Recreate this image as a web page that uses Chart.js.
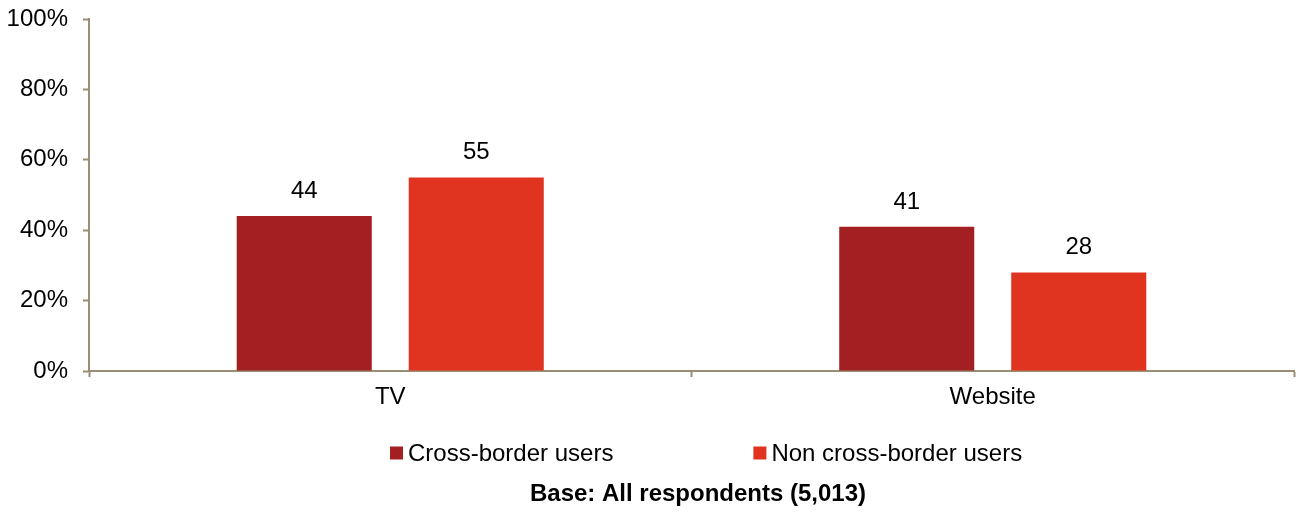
<!DOCTYPE html>
<html>
<head>
<meta charset="utf-8">
<script src="https://cdn.jsdelivr.net/npm/chart.js@4"></script>
<style>
  html, body { margin: 0; padding: 0; background: #fff; }
  #wrap { width: 1296px; height: 515px; }
</style>
</head>
<body>
<div id="wrap"><canvas id="chart"></canvas></div>
<script>
const categories = ['TV', 'Website'];
const crossBorder = [44, 41];
const nonCrossBorder = [55, 28];
const seriesNames = ['Cross-border users', 'Non cross-border users'];
const yTicks = [0, 20, 40, 60, 80, 100];
const baseNote = 'Base: All respondents (5,013)';

const axisColor = '#9a8f74';
const fontFamily = '"Liberation Sans", Arial, sans-serif';

// value labels above each bar
const valueLabels = {
    id: 'valueLabels',
    afterDatasetsDraw(chart) {
        const ctx = chart.ctx;
        ctx.save();
        ctx.font = '24px ' + fontFamily;
        ctx.fillStyle = '#000';
        ctx.textAlign = 'center';
        ctx.textBaseline = 'alphabetic';
        chart.data.datasets.forEach((ds, i) => {
            chart.getDatasetMeta(i).data.forEach((bar, j) => {
                ctx.fillText(String(ds.data[j]), bar.x, bar.y - 18);
            });
        });
        ctx.restore();
    }
};

// legend + base note under the axis
const bottomNotes = {
    id: 'bottomNotes',
    afterDraw(chart) {
        const ctx = chart.ctx;
        const xb = chart.scales.x.bottom;
        ctx.save();
        ctx.font = '24px ' + fontFamily;
        ctx.textBaseline = 'middle';
        ctx.textAlign = 'left';
        const box = 13, gapText = 5, gapItem = 140;
        const widths = seriesNames.map(n => box + gapText + ctx.measureText(n).width);
        let x = 390;
        const y = xb + 41;
        chart.data.datasets.forEach((ds, i) => {
            ctx.fillStyle = ds.backgroundColor;
            ctx.fillRect(x, y - box / 2, box, box);
            ctx.fillStyle = '#000';
            ctx.fillText(seriesNames[i], x + box + gapText, y + 1);
            x += widths[i] + gapItem;
        });
        ctx.font = 'bold 24px ' + fontFamily;
        ctx.textAlign = 'center';
        ctx.fillText(baseNote, 698, y + 41);
        ctx.restore();
    }
};

new Chart(document.getElementById('chart'), {
    type: 'bar',
    data: {
        labels: categories,
        datasets: [
            {
                label: seriesNames[0],
                data: crossBorder,
                backgroundColor: '#a31f22',
                categoryPercentage: 0.571,
                barPercentage: 0.785
            },
            {
                label: seriesNames[1],
                data: nonCrossBorder,
                backgroundColor: '#e03320',
                categoryPercentage: 0.571,
                barPercentage: 0.785
            }
        ]
    },
    options: {
        responsive: true,
        maintainAspectRatio: false,
        animation: false,
        layout: { padding: { left: 7, right: 2, top: 19, bottom: 103 } },
        scales: {
            x: {
                afterFit: (s) => { s.height = 41; },
                grid: {
                    display: true,
                    drawOnChartArea: false,
                    drawTicks: true,
                    tickLength: 6,
                    tickWidth: 2,
                    color: axisColor
                },
                border: { color: axisColor, width: 2 },
                ticks: {
                    color: '#000',
                    padding: 6,
                    font: { family: fontFamily, size: 24 }
                }
            },
            y: {
                min: 0,
                max: 100,
                afterBuildTicks: (axis) => {
                    axis.ticks = yTicks.map(v => ({ value: v }));
                },
                afterFit: (s) => {
                    s.width = 82;
                    s.paddingTop = 0;
                    s.paddingBottom = 0;
                },
                grid: {
                    display: true,
                    drawOnChartArea: false,
                    drawTicks: true,
                    tickLength: 6,
                    tickWidth: 2,
                    color: axisColor
                },
                border: { color: axisColor, width: 2 },
                ticks: {
                    color: '#000',
                    padding: 15,
                    font: { family: fontFamily, size: 24 },
                    callback: (v) => v + '%'
                }
            }
        },
        plugins: {
            legend: { display: false },
            tooltip: { enabled: false }
        }
    },
    plugins: [valueLabels, bottomNotes]
});
</script>
</body>
</html>
